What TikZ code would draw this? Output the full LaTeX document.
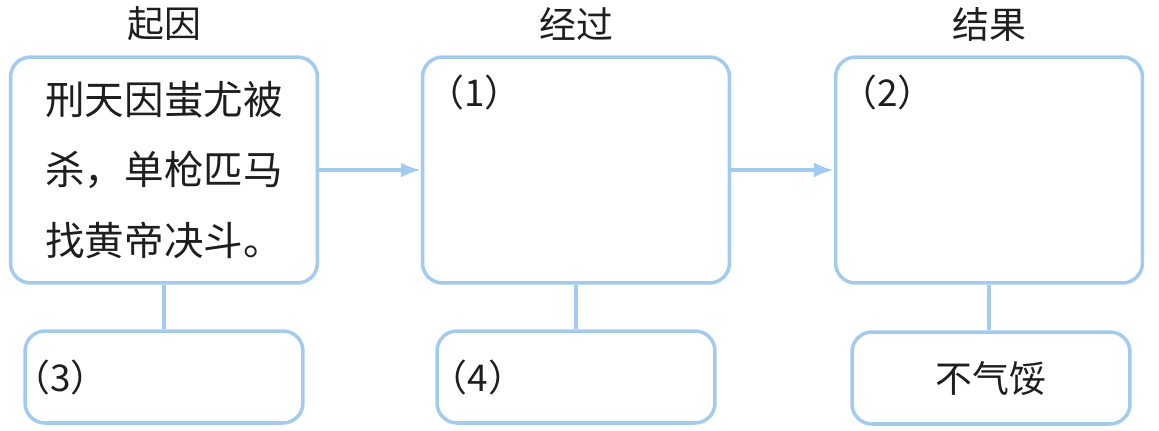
\documentclass[tikz,border=0pt]{standalone}
\usepackage{fontspec}
\newfontfamily\cjk{Noto Sans CJK SC}
\definecolor{Frame}{HTML}{A3CBEF}
\definecolor{Ink}{HTML}{1E1E1E}
\usetikzlibrary{arrows.meta,positioning}

\begin{document}
\begin{tikzpicture}[
  x=0.02cm,y=-0.02cm,
  font=\cjk\fontsize{21pt}{37.5pt}\selectfont,
  text=Ink,
  bigbox/.style={rounded corners=4mm,draw=Frame,line width=2pt,fill=white,
    minimum width=6.14cm,minimum height=4.52cm},
  notebox/.style={rounded corners=4mm,draw=Frame,line width=2pt,fill=white,
    minimum width=5.56cm,minimum height=1.84cm},
  heading/.style={inner sep=0pt},
  story/.style={font=\cjk\fontsize{22.5pt}{40pt}\selectfont,align=left},
  tag/.style={inner sep=0pt,anchor=west},
  arrow/.style={-{Latex[length=4mm,width=3mm]},line width=2pt,draw=Frame},
  link/.style={line width=2pt,draw=Frame}
]
% Pixel grid of the reference (1159 x 430), y runs downwards.
\useasboundingbox (0,0) rectangle (1159,430);

% three columns: cause, course, result
\node[heading] (causehead) at (164,24) {起因};
\node[heading] (coursehead) at (576,24) {经过};
\node[heading] (resulthead) at (989,24) {结果};

\node[bigbox,story] (cause) at (164,170) {刑天因蚩尤被\\杀，单枪匹马\\找黄帝决斗。};
\node[bigbox] (course) at (576,170) {};
\node[bigbox] (result) at (989,170) {};

\node[notebox] (causenote) at (164,377) {};
\node[notebox] (coursenote) at (576,377) {};
\node[notebox] (resultnote) at (991,378) {不气馁};

% blanks to be filled in
\node[tag] (blank1) at ([xshift=0.12cm,yshift=-0.75cm]course.north west) {（1）};
\node[tag] (blank2) at ([xshift=0.12cm,yshift=-0.75cm]result.north west) {（2）};
\node[tag] (blank3) at ([xshift=-0.2cm]causenote.west) {（3）};
\node[tag] (blank4) at ([xshift=-0.1cm]coursenote.west) {（4）};

\draw[arrow] (cause) -- (course);
\draw[arrow] (course) -- (result);
\draw[link] (cause) -- (causenote);
\draw[link] (course) -- (coursenote);
\draw[link] (result.south) -- (result.south |- resultnote.north);
\end{tikzpicture}
\end{document}
